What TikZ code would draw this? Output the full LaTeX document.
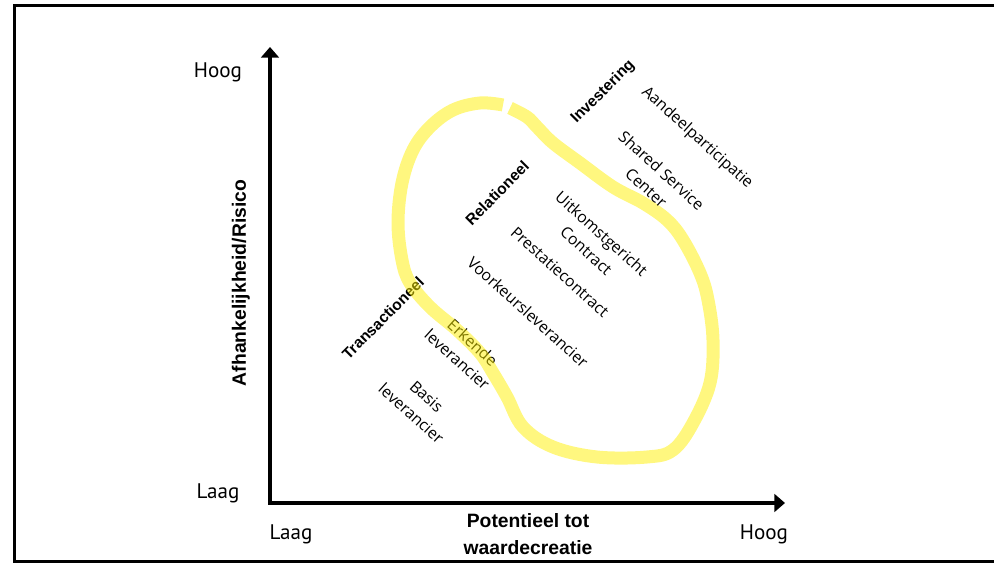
\documentclass[tikz,border=0pt]{standalone}
\usepackage{fontspec}
\setmainfont{Open Sans}
\newfontfamily\boldfont{Liberation Sans}
\newfontfamily\axisfont{PT Sans}
\usetikzlibrary{arrows.meta,
                positioning}
\definecolor{myellow}{RGB}{255,240,0}
\tikzset{%
    item/.style = {font=\fontsize{9}{13}\selectfont, align=center, rotate=-42,
                   inner sep=0pt},
    group/.style = {font=\boldfont\bfseries\fontsize{8.8}{10}\selectfont, rotate=45,
                   inner sep=0pt},
    scalelabel/.style = {font=\axisfont\fontsize{12}{14}\selectfont},
    axistitle/.style = {font=\boldfont\bfseries\fontsize{11}{15.3}\selectfont, align=center},
    axisline/.style = {draw, line width=2.1pt, line cap=rect, -{Triangle[length=6pt,width=10pt]}},
    hull/.style = {draw=myellow, opacity=.5, line width=7.4pt}
    }

\begin{document}
\begin{tikzpicture}[x=0.02cm, y=-0.02cm]
\useasboundingbox (0,0) rectangle (994,563);
\draw [line width=1.4pt] (994,5.5) -| (14.5,561.5) -- (994,561.5);% frame, open at the right
\coordinate (O) at (270,503);
\coordinate (ytop) at (270,47);
\coordinate (xend) at (785,503);
\draw [axisline] (O) -- (ytop);
\draw [axisline] (O) -- (xend);
\node [scalelabel] (yhigh) at (218,72) {Hoog};
\node [scalelabel] (ylow)  at (218,493) {Laag};
\node [scalelabel] (xlow)  at (291,534) {Laag};
\node [scalelabel] (xhigh) at (764,534) {Hoog};
\node [axistitle] (xtitle) at (528,534) {Potentieel tot\\waardecreatie};
\node [axistitle, rotate=90] (ytitle) at (241,283) {Afhankelijkheid/Risico};
% under the yellow hull
\node [group] (trans) at (383,318) {Transactioneel};
\node [item] (erkend) at (465,351) {Erkende\\leverancier};
\draw [hull] plot [smooth, tension=.6] coordinates {(510,108) (527,117) (537,127) (553,143)
    (580,163) (613,187) (643,203) (667,220) (683,240) (700,273) (708,300) (713,340)
    (710,383) (693,423) (673,450) (647,457) (597,457) (553,447) (523,427) (507,397)
    (493,373) (480,353) (457,330) (430,307) (410,283) (402,260) (398,223) (402,183)
    (413,150) (430,127) (453,110) (480,103) (503,105)};
% on top of the hull
\node [group] (rel) at (497,193) {Relationeel};
\node [group] (inv) at (603,92) {Investering};
\node [item] (basis)     at (419,405) {Basis\\leverancier};
\node [item] (voorkeur)  at (528,312) {Voorkeursleverancier};
\node [item] (prestatie) at (560,272) {Prestatiecontract};
\node [item] (uitkomst)  at (594,242) {Uitkomstgericht\\Contract};
\node [item] (ssc)       at (654,179) {Shared Service\\Center};
\node [item] (aandeel)   at (697,138) {Aandeelparticipatie};
\end{tikzpicture}
\end{document}
